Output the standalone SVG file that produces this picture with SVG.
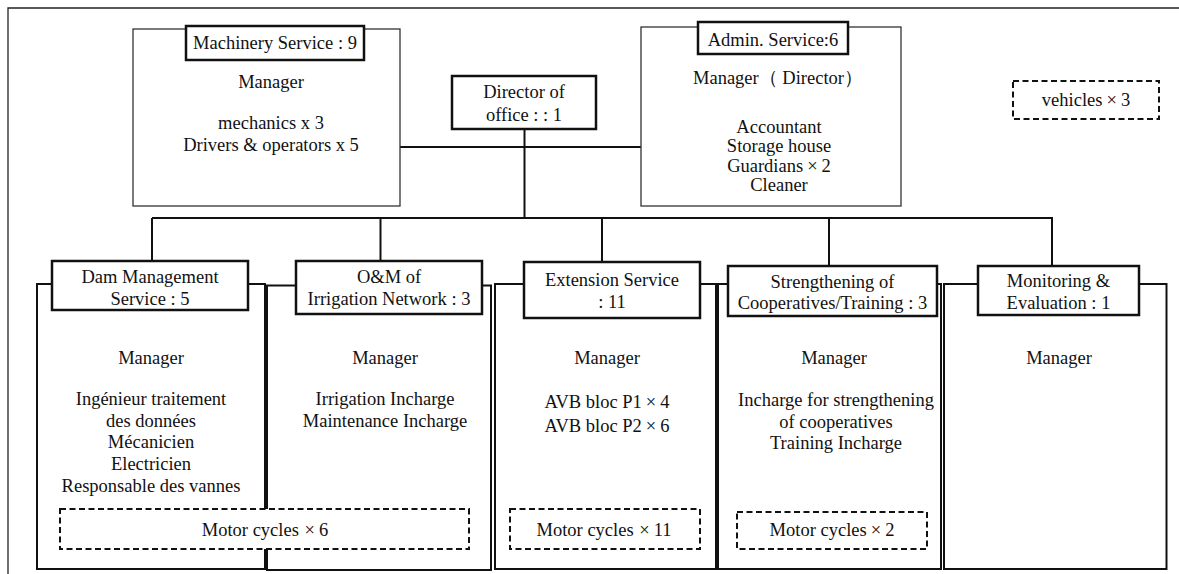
<svg xmlns="http://www.w3.org/2000/svg" width="1179" height="574" viewBox="0 0 1179 574">
  <style>
    text { font-family: 'Liberation Serif', 'Times New Roman', serif; font-size: 18.5px; fill: #111; text-anchor: middle; }
    .frame { fill: none; stroke: #222; stroke-width: 1.3; }
    .top { fill: #fff; stroke: #333; stroke-width: 1.3; }
    .body { fill: #fff; stroke: #111; stroke-width: 2; }
    .title { fill: #fff; stroke: #111; stroke-width: 2.5; }
    .dash { fill: #fff; stroke: #111; stroke-width: 2; stroke-dasharray: 6 3.5; }
    .link { fill: none; stroke: #111; stroke-width: 2; }
  </style>

  <rect width="1179" height="574" fill="#fff"/>
  <!-- page frame (top and left edges) -->
  <path class="frame" d="M8,574 V8 H1179"/>

  <!-- connectors -->
  <g id="connectors">
    <path class="link" d="M400,147 H641"/>
    <path class="link" d="M524.5,129 V218"/>
    <path class="link" d="M152,218 H1053"/>
    <path class="link" d="M152,218 V262"/>
    <path class="link" d="M380.5,218 V262"/>
    <path class="link" d="M602,218 V262"/>
    <path class="link" d="M829,218 V266"/>
    <path class="link" d="M1052,218 V266"/>
  </g>

  <!-- Machinery Service -->
  <g id="machinery">
    <rect class="top" x="133" y="29" width="267" height="177"/>
    <rect class="title" x="186" y="26" width="178" height="34"/>
    <text x="275" y="49">Machinery Service : 9</text>
    <text x="271" y="88">Manager</text>
    <text x="271" y="129">mechanics x 3</text>
    <text x="271" y="151">Drivers &amp; operators  x 5</text>
  </g>

  <!-- Director of office -->
  <g id="director">
    <rect class="title" x="452" y="76" width="144" height="53"/>
    <text x="524" y="98">Director of</text>
    <text x="524" y="121">office : : 1</text>
  </g>

  <!-- Admin. Service -->
  <g id="admin">
    <rect class="top" x="641" y="27" width="260" height="179"/>
    <rect class="title" x="698" y="22" width="150" height="32"/>
    <text x="773" y="46">Admin. Service:6</text>
    <text x="778" y="84">Manager（ Director）</text>
    <text x="779" y="132.5">Accountant</text>
    <text x="779" y="152">Storage house</text>
    <text x="779" y="171.5">Guardians<tspan dx="4">×</tspan><tspan dx="4">2</tspan></text>
    <text x="779" y="191">Cleaner</text>
  </g>

  <!-- vehicles -->
  <g id="vehicles">
    <rect class="dash" x="1013" y="81" width="146" height="38"/>
    <text x="1086" y="106">vehicles<tspan dx="4">×</tspan><tspan dx="4">3</tspan></text>
  </g>

  <!-- Dam Management Service -->
  <g id="dam">
    <rect class="body" x="37" y="284" width="228" height="285"/>
    <rect class="title" x="52" y="261" width="196" height="49"/>
    <text x="150" y="283">Dam Management</text>
    <text x="150" y="305">Service : 5</text>
    <text x="151" y="364">Manager</text>
    <text x="151" y="405">Ingénieur traitement</text>
    <text x="151" y="427">des données</text>
    <text x="151" y="448">Mécanicien</text>
    <text x="151" y="470">Electricien</text>
    <text x="151" y="492">Responsable des vannes</text>
  </g>

  <!-- O&M of Irrigation Network -->
  <g id="om">
    <rect class="body" x="267" y="285.5" width="224" height="284.5"/>
    <rect class="title" x="296" y="261" width="186" height="53"/>
    <text x="389" y="283">O&amp;M of</text>
    <text x="389" y="305">Irrigation Network : 3</text>
    <text x="385" y="364">Manager</text>
    <text x="385" y="405">Irrigation Incharge</text>
    <text x="385" y="427">Maintenance Incharge</text>
  </g>

  <!-- Extension Service -->
  <g id="extension">
    <rect class="body" x="495" y="284" width="221" height="285"/>
    <rect class="title" x="524" y="262" width="176" height="56"/>
    <text x="612" y="286">Extension Service</text>
    <text x="612" y="308">: 11</text>
    <text x="607" y="364">Manager</text>
    <text x="607" y="408">AVB bloc P1<tspan dx="4">×</tspan><tspan dx="4">4</tspan></text>
    <text x="607" y="432">AVB bloc P2<tspan dx="4">×</tspan><tspan dx="4">6</tspan></text>
  </g>

  <!-- Strengthening of Cooperatives/Training -->
  <g id="strengthening">
    <rect class="body" x="718" y="284" width="223" height="285"/>
    <rect class="title" x="728" y="266" width="209" height="50"/>
    <text x="832.5" y="288">Strengthening of</text>
    <text x="832.5" y="309">Cooperatives/Training : 3</text>
    <text x="834" y="364">Manager</text>
    <text x="836" y="406">Incharge for strengthening</text>
    <text x="836" y="428">of cooperatives</text>
    <text x="836" y="449">Training Incharge</text>
  </g>

  <!-- Monitoring & Evaluation -->
  <g id="monitoring">
    <rect class="body" x="944" y="284" width="222.5" height="285"/>
    <rect class="title" x="978" y="266" width="161" height="49"/>
    <text x="1058.5" y="287">Monitoring &amp;</text>
    <text x="1058.5" y="309">Evaluation  : 1</text>
    <text x="1059" y="364">Manager</text>
  </g>

  <!-- motor cycle allocations -->
  <g id="motorcycles-6">
    <rect class="dash" x="60" y="509" width="409" height="40"/>
    <text x="265" y="536">Motor cycles <tspan dx="1">×</tspan><tspan dx="4">6</tspan></text>
  </g>
  <g id="motorcycles-11">
    <rect class="dash" x="510" y="509" width="190" height="40"/>
    <text x="604" y="536">Motor cycles <tspan dx="1">×</tspan><tspan dx="4">11</tspan></text>
  </g>
  <g id="motorcycles-2">
    <rect class="dash" x="737" y="512" width="190" height="37"/>
    <text x="832" y="536">Motor cycles<tspan dx="4">×</tspan><tspan dx="4">2</tspan></text>
  </g>
</svg>
